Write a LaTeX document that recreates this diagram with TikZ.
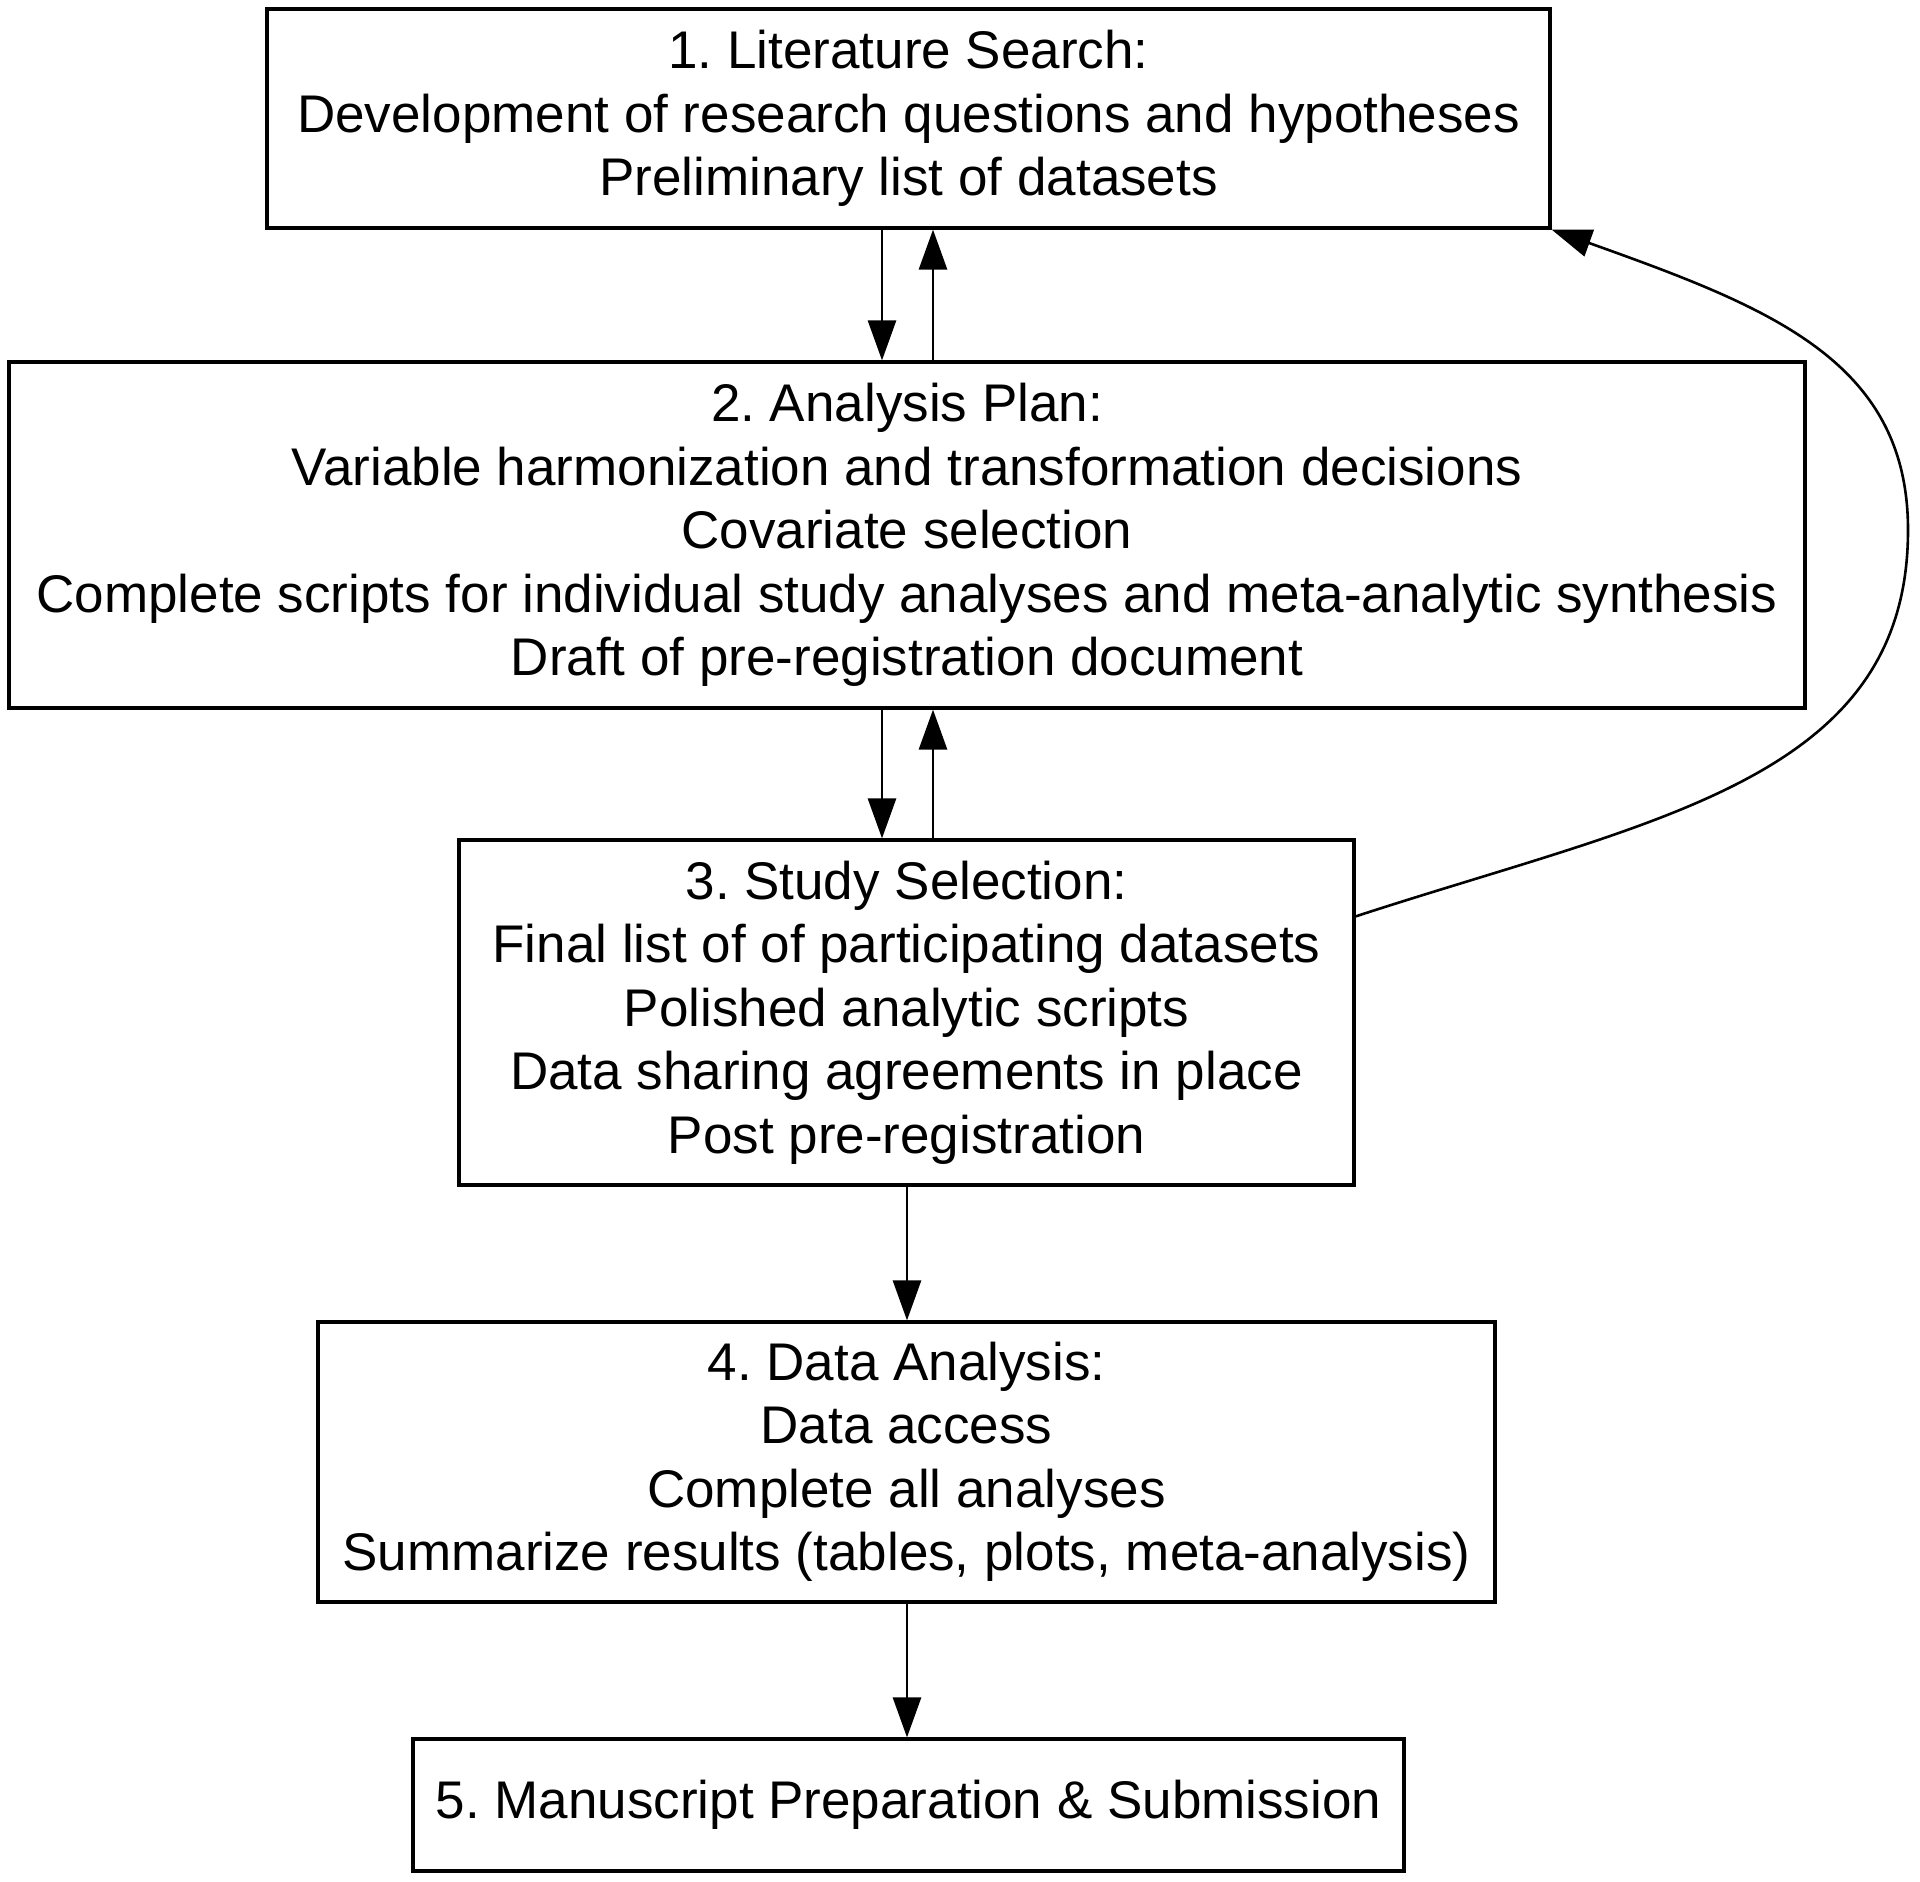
\documentclass[tikz,border=0pt]{standalone}
\usepackage{fontspec}
\setmainfont{Liberation Sans}
\usetikzlibrary{arrows.meta}
\frenchspacing
\begin{document}
\begin{tikzpicture}[x=1pt,y=-1pt,
  stagebox/.style={draw, line width=3.2pt, inner sep=0pt, align=center,
    font=\fontsize{53}{63.5}\selectfont},
  arr/.style={line width=2.8pt, -{Triangle[length=40pt,width=28pt]}}]
\fill[white] (0,0) rectangle (1920,1882);
\useasboundingbox (0,0) rectangle (1920,1882);
\node[stagebox, minimum width=1283pt, minimum height=219pt] (n1) at (908.5,118.5)
  {1. Literature Search:\\Development of research questions and hypotheses\\Preliminary list of datasets};
\node[stagebox, minimum width=1796pt, minimum height=346pt] (n2) at (907,535)
  {2. Analysis Plan:\\Variable harmonization and transformation decisions\\Covariate selection\\Complete scripts for individual study analyses and meta-analytic synthesis\\Draft of pre-registration document};
\node[stagebox, minimum width=895pt, minimum height=345pt] (n3) at (906.5,1012.5)
  {3. Study Selection:\\Final list of of participating datasets\\Polished analytic scripts\\Data sharing agreements in place\\Post pre-registration};
\node[stagebox, minimum width=1177pt, minimum height=280pt] (n4) at (906.5,1462)
  {4. Data Analysis:\\Data access\\Complete all analyses\\Summarize results (tables, plots, meta-analysis)};
\node[stagebox, minimum width=991pt, minimum height=132pt] (n5) at (908.5,1805)
  {5. Manuscript Preparation \& Submission};
\coordinate (xd) at (882,0);
\coordinate (xu) at (933,0);
\coordinate (xm) at (907,0);
\draw[arr] (n1.south -| xd) -- (n2.north -| xd);
\draw[arr] (n2.north -| xu) -- (n1.south -| xu);
\draw[arr] (n2.south -| xd) -- (n3.north -| xd);
\draw[arr] (n3.north -| xu) -- (n2.south -| xu);
\draw[arr] (n3.south -| xm) -- (n4.north -| xm);
\draw[arr] (n4.south -| xm) -- (n5.north -| xm);
\draw[arr, line width=2.6pt] ([yshift=-78pt]n3.north east) .. controls (1654,819) and (1908,780) .. (1908,530)
  .. controls (1908,360) and (1768,307) .. (n1.south east);
\end{tikzpicture}
\end{document}
